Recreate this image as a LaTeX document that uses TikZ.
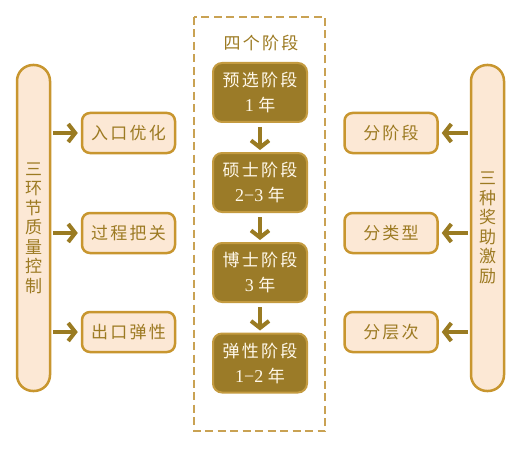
\documentclass[tikz,border=0pt]{standalone}
\usepackage{fontspec}
\setmainfont{Liberation Serif}
\newfontfamily\cjk[LetterSpace=13]{Noto Sans CJK SC}
\newfontfamily\cjkv{Noto Sans CJK SC}
\usetikzlibrary{arrows.meta}
\definecolor{lightfill}{HTML}{FCE8D5}
\definecolor{goldline}{HTML}{C8962F}
\definecolor{goldtext}{HTML}{9C7A22}
\definecolor{darkfill}{HTML}{9B7B28}
\definecolor{darkline}{HTML}{C49B40}
\definecolor{arrowc}{HTML}{9A7B22}
\definecolor{dashc}{HTML}{C9A253}
\definecolor{lighttext}{HTML}{FFF8EA}
\tikzset{
  bar/.style={draw=goldline, fill=lightfill, line width=2.5pt, rounded corners=16pt,
    minimum width=33pt, minimum height=326pt, inner sep=0pt, text=goldtext,
    align=center, font=\cjkv\fontsize{17}{19.5}\selectfont},
  sidebox/.style={draw=goldline, fill=lightfill, line width=2.5pt, rounded corners=8pt,
    minimum width=93pt, minimum height=40pt, inner sep=0pt, text=goldtext,
    font=\cjk\fontsize{17}{20}\selectfont},
  stagebox/.style={draw=darkline, fill=darkfill, line width=2pt, rounded corners=9pt,
    minimum width=94pt, minimum height=59pt, inner sep=0pt, text=lighttext,
    align=center, font=\fontsize{18}{25}\selectfont},
  arr/.style={draw=arrowc, line width=4pt, -{Straight Barb[length=7pt,width=18pt]}},
}
\begin{document}
\begin{tikzpicture}[x=1pt,y=-1pt]
\useasboundingbox (0,0) rectangle (519,468);
\fill[white] (0,0) rectangle (519,468);
% dashed frame
\draw[dashc, line width=1.5pt, dash pattern=on 8pt off 4.5pt] (194,17) rectangle (325,431);
\node[text=goldtext, font=\cjk\fontsize{17}{20}\selectfont] (title) at (261,43) {四个阶段};
% bars
\node[bar] (lbar) at (33.5,228) {三\\环\\节\\质\\量\\控\\制};
\node[bar] (rbar) at (487.5,228) {三\\种\\奖\\助\\激\\励};
% left boxes
\node[sidebox] (l1) at (128.5,133) {入口优化};
\node[sidebox] (l2) at (128.5,233) {过程把关};
\node[sidebox] (l3) at (128.5,332) {出口弹性};
% right boxes
\node[sidebox] (r1) at (391,133) {分阶段};
\node[sidebox] (r2) at (391,233) {分类型};
\node[sidebox] (r3) at (391,332) {分层次};
% stages
\node[stagebox] (s1) at (260,92.5) {{\cjk\fontsize{17}{25}\selectfont 预选阶段}\\1 {\cjkv\fontsize{17}{25}\selectfont 年}};
\node[stagebox] (s2) at (260,182.5) {{\cjk\fontsize{17}{25}\selectfont 硕士阶段}\\2−3 {\cjkv\fontsize{17}{25}\selectfont 年}};
\node[stagebox] (s3) at (260,272.5) {{\cjk\fontsize{17}{25}\selectfont 博士阶段}\\3 {\cjkv\fontsize{17}{25}\selectfont 年}};
\node[stagebox] (s4) at (260,363) {{\cjk\fontsize{17}{25}\selectfont 弹性阶段}\\1−2 {\cjkv\fontsize{17}{25}\selectfont 年}};
% arrows
\foreach \b in {l1,l2,l3}{
  \draw[arr, shorten <=2pt, shorten >=3pt] (lbar.east |- \b) -- (\b.west);
}
\foreach \b in {r1,r2,r3}{
  \draw[arr, shorten <=2pt, shorten >=3pt] (rbar.west |- \b) -- (\b.east);
}
\draw[arr, shorten <=4pt, shorten >=2pt] (s1) -- (s2);
\draw[arr, shorten <=4pt, shorten >=2pt] (s2) -- (s3);
\draw[arr, shorten <=4pt, shorten >=2pt] (s3) -- (s4);
\end{tikzpicture}
\end{document}
